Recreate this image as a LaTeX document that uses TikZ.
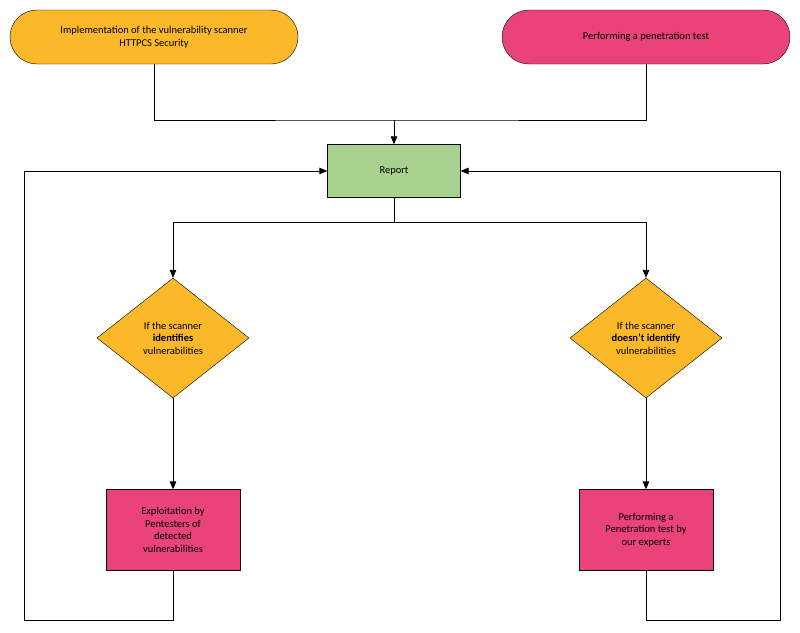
\documentclass[tikz,border=0pt]{standalone}
\usepackage{fontspec}
\setmainfont{Carlito}
\usetikzlibrary{shapes,arrows,positioning,calc}
\definecolor{scanorange}{HTML}{FBB829}
\definecolor{testpink}{HTML}{E9437A}
\definecolor{reportgreen}{HTML}{A9D18E}
\tikzstyle{terminal} = [rectangle, draw, rounded corners=27pt, minimum width=288pt, minimum height=54pt, align=center, font=\fontsize{10.5}{12.5}\selectfont]
\tikzstyle{block} = [rectangle, draw, minimum width=133pt, minimum height=53pt, align=center, font=\fontsize{10.5}{12.5}\selectfont]
\tikzstyle{decision} = [diamond, draw, fill=scanorange, minimum width=152pt, minimum height=120pt, aspect=1.27, inner sep=0pt, align=center, font=\fontsize{10.5}{12.5}\selectfont]
\tikzstyle{line} = [draw, thick, -triangle 45]
\begin{document}
\begin{tikzpicture}[x=1pt,y=-1pt]
	\useasboundingbox (0,0) rectangle (800,632);
	% Top row
	\node [terminal, fill=scanorange] (Scanner) at (154,37) {Implementation of the vulnerability scanner\\HTTPCS Security};
	\node [terminal, fill=testpink] (Pentest) at (646,37) {Performing a penetration test};
	% Report
	\node [block, fill=reportgreen] (Report) at (394,171) {Report};
	\coordinate (join) at (394,120);
	\coordinate (split) at (394,222);
	% Decisions
	\node [decision] (Identifies) at (173,338) {If the scanner\\\textbf{identifies}\\vulnerabilities};
	\node [decision] (NotIdentify) at (646,338) {If the scanner\\\textbf{doesn't identify}\\vulnerabilities};
	% Bottom row
	\node [block, fill=testpink, minimum height=81pt, minimum width=134pt] (Exploit) at (173,530) {Exploitation by\\Pentesters of\\detected\\vulnerabilities};
	\node [block, fill=testpink, minimum height=81pt, minimum width=134pt] (Expert) at (646,530) {Performing a\\Penetration test by\\our experts};
	% Paths
	\draw [thick] (Scanner.south) |- (join) -| (Pentest.south);
	\path [line] (join) -- (Report.north);
	\draw [thick] (Report.south) -- (split);
	\path [line] (split) -| (Identifies.north);
	\path [line] (split) -| (NotIdentify.north);
	\path [line] (Identifies.south) -- (Exploit.north);
	\path [line] (NotIdentify.south) -- (Expert.north);
	\path [line] (Exploit.south) -- ++(0,50) -| (24,171) -- (Report.west);
	\path [line] (Expert.south) -- ++(0,50) -| (780,171) -- (Report.east);
\end{tikzpicture}
\end{document}
